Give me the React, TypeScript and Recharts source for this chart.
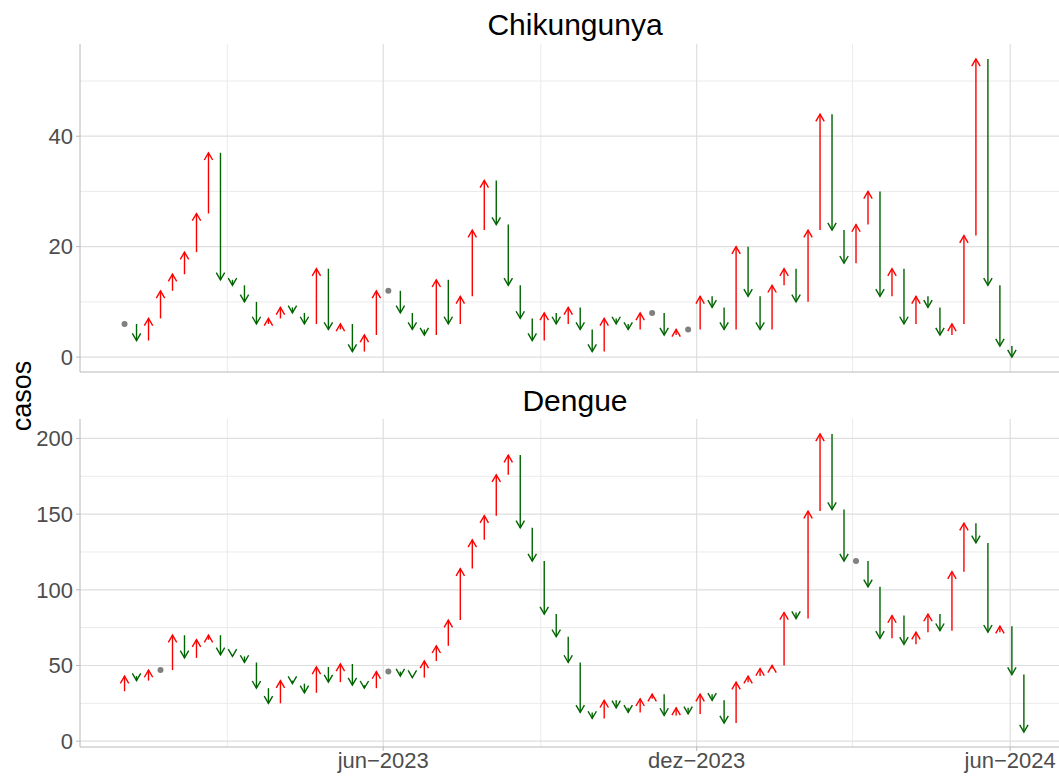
import { Bar, CartesianGrid, ComposedChart, Scatter, XAxis, YAxis } from "recharts";

const DIA = 86400000;
// primeira semana mostrada: 01/01/2023; o 1º valor de cada série é a semana anterior
const inicio = Date.UTC(2023, 0, 1);

const chikungunya = [
  6, 6, 3, 7, 12, 15, 19, 26, 37, 14, 13, 10, 6, 7, 9, 8, 6, 16, 5, 6, 1, 4, 12, 12, 8, 5, 4, 14, 6, 11, 23,
  32, 24, 13, 7, 3, 8, 6, 9, 5, 1, 7, 6, 5, 8, 8, 4, 5, 5, 11, 9, 5, 20, 11, 5, 13, 16, 10, 23, 44, 23, 17,
  24, 30, 11, 16, 6, 11, 9, 4, 6, 22, 54, 13, 2, 0,
];

const dengue = [
  33, 43, 40, 47, 47, 70, 55, 67, 70, 57, 56, 52, 35, 25, 40, 38, 32, 49, 39, 51, 37, 35, 46, 46, 43, 42, 53,
  63, 80, 114, 133, 149, 176, 189, 141, 119, 84, 69, 52, 19, 15, 27, 22, 19, 28, 31, 17, 22, 18, 31, 27, 12,
  39, 43, 48, 50, 85, 81, 152, 203, 153, 119, 119, 102, 68, 83, 64, 72, 84, 73, 112, 144, 131, 72, 76, 44, 6,
];

const ticksX = [Date.UTC(2023, 5, 1), Date.UTC(2023, 11, 1), Date.UTC(2024, 5, 1)];
const menoresX = [Date.UTC(2023, 2, 2), Date.UTC(2023, 8, 1), Date.UTC(2024, 2, 1)];
const dominioX = [inicio - 26 * DIA, inicio + 545.5 * DIA];

const ticksChik = [0, 20, 40];
const menoresChik = [10, 30, 50];
const ticksDengue = [0, 50, 100, 150, 200];
const menoresDengue = [25, 75, 125, 175];

const meses = ["jan", "fev", "mar", "abr", "mai", "jun", "jul", "ago", "set", "out", "nov", "dez"];
const fonte = "'Liberation Sans', Arial, sans-serif";
const cinzaEixo = "#b8b8b8";

function montar(serie: number[]) {
  return serie.slice(1).map((cur, i) => ({
    data: inicio + i * 7 * DIA,
    ant: serie[i],
    cur,
    faixa: [serie[i], cur],
  }));
}

function Seta(props: any) {
  const { x, y, width, height, payload } = props;
  if (!payload || payload.ant === payload.cur) return <g />;
  const cx = x + width / 2;
  const sobe = payload.cur > payload.ant;
  const a = y;
  const b = y + height;
  const ponta = sobe ? Math.min(a, b) : Math.max(a, b);
  const base = sobe ? Math.max(a, b) : Math.min(a, b);
  const cor = sobe ? "#ff0000" : "#006400";
  const d = sobe ? 7.2 : -7.2;
  return (
    <g stroke={cor} strokeWidth={1.4} fill="none">
      <line x1={cx} y1={base} x2={cx} y2={ponta} />
      <polyline points={`${cx - 4.2},${ponta + d} ${cx},${ponta} ${cx + 4.2},${ponta + d}`} />
    </g>
  );
}

function Ponto(props: any) {
  return <circle cx={props.cx} cy={props.cy} r={3} fill="#808080" />;
}

const SemTick = () => <g />;

function Painel({
  serie,
  dominioY,
  ticksY,
  menoresY,
  comEixoX,
  altura,
}: {
  serie: number[];
  dominioY: number[];
  ticksY: number[];
  menoresY: number[];
  comEixoX: boolean;
  altura: number;
}) {
  const dados = montar(serie);
  const iguais = dados.filter((d) => d.ant === d.cur);
  return (
    <ComposedChart
      width={1059}
      height={altura}
      data={dados}
      margin={{ top: 44, right: 0, bottom: comEixoX ? 0 : 7, left: 0 }}
    >
      <CartesianGrid
        horizontalValues={menoresY}
        verticalValues={menoresX}
        stroke="#ebebeb"
        strokeWidth={1}
      />
      <CartesianGrid horizontalValues={ticksY} verticalValues={ticksX} stroke="#dedede" strokeWidth={1.2} />
      <XAxis
        dataKey="data"
        type="number"
        scale="linear"
        domain={dominioX}
        allowDataOverflow
        ticks={ticksX}
        tickFormatter={(v) => {
          const d = new Date(v);
          return `${meses[d.getUTCMonth()]}\u2212${d.getUTCFullYear()}`;
        }}
        height={comEixoX ? 29 : 1}
        tick={comEixoX ? { fill: "#4d4d4d", fontSize: 22, fontFamily: fonte } : <SemTick />}
        tickLine={comEixoX ? { stroke: cinzaEixo } : false}
        tickSize={4}
        tickMargin={1}
        axisLine={{ stroke: cinzaEixo }}
      />
      <YAxis
        type="number"
        domain={dominioY}
        allowDataOverflow
        ticks={ticksY}
        width={80}
        tick={{ fill: "#4d4d4d", fontSize: 22, fontFamily: fonte }}
        tickLine={{ stroke: cinzaEixo }}
        tickSize={4}
        tickMargin={3}
        axisLine={{ stroke: cinzaEixo }}
      />
      <Bar dataKey="faixa" barSize={8} shape={<Seta />} isAnimationActive={false} />
      <Scatter data={iguais} dataKey="cur" shape={<Ponto />} isAnimationActive={false} />
    </ComposedChart>
  );
}

const titulo: React.CSSProperties = {
  position: "absolute",
  left: 80,
  width: 990,
  textAlign: "center",
  fontSize: 30,
  lineHeight: "30px",
  color: "#000",
};

export default function App() {
  return (
    <div
      style={{
        position: "absolute",
        left: 0,
        top: 0,
        width: 1059,
        height: 776,
        background: "#fff",
        fontFamily: fonte,
        overflow: "hidden",
      }}
    >
      <div style={{ position: "absolute", left: 0, top: 0 }}>
        <Painel
          serie={chikungunya}
          dominioY={[-2.7, 56.7]}
          ticksY={ticksChik}
          menoresY={menoresChik}
          comEixoX={false}
          altura={380}
        />
      </div>
      <div style={{ position: "absolute", left: 0, top: 375 }}>
        <Painel
          serie={dengue}
          dominioY={[-3.85, 212.85]}
          ticksY={ticksDengue}
          menoresY={menoresDengue}
          comEixoX={true}
          altura={401}
        />
      </div>
      <div style={{ ...titulo, top: 10 }}>Chikungunya</div>
      <div style={{ ...titulo, top: 386 }}>Dengue</div>
      <div
        style={{
          position: "absolute",
          left: 22,
          top: 396,
          transform: "translate(-50%, -50%) rotate(-90deg)",
          fontSize: 27,
          color: "#000",
          whiteSpace: "nowrap",
        }}
      >
        casos
      </div>
    </div>
  );
}
